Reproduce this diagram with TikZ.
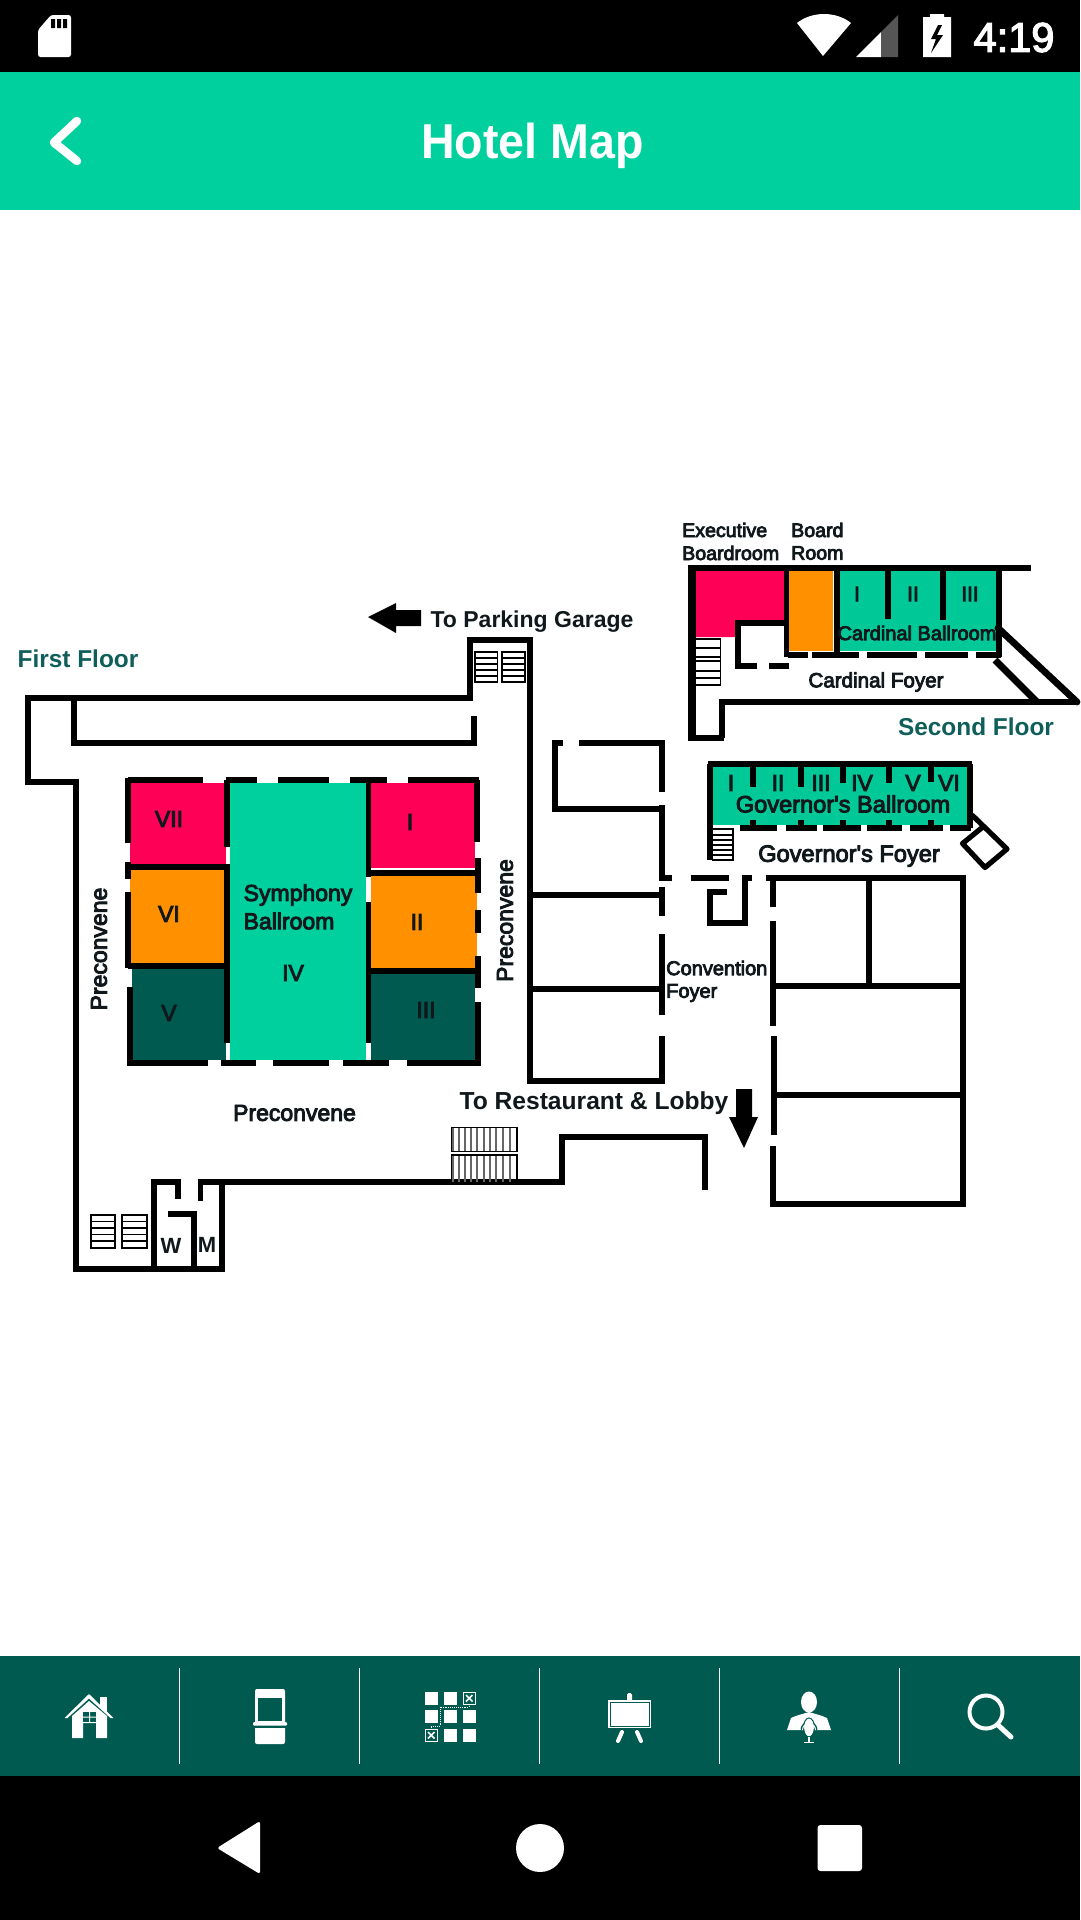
\documentclass[tikz,border=0pt]{standalone}
\usepackage{fontspec}
\setmainfont{Liberation Sans}
\newfontfamily\mapfont[FakeBold=4]{Liberation Sans}
\newfontfamily\clockfont[FakeBold=3]{Liberation Sans}
\newfontfamily\boldfont{Liberation Sans Bold}
\definecolor{appgreen}{HTML}{00CF9E}
\definecolor{hallgreen}{HTML}{00C896}
\definecolor{barteal}{HTML}{005A50}
\definecolor{roompink}{HTML}{FF0057}
\definecolor{roomorange}{HTML}{FF9100}
\definecolor{floorteal}{HTML}{0F5E5A}
\definecolor{inkdark}{HTML}{10181C}
\definecolor{sigdark}{HTML}{555555}
\tikzset{
  wall/.style={draw=black,line width=5.2pt},
  heavywall/.style={draw=black,line width=6.8pt},
  rung/.style={draw=black,line width=1.8pt},
  lab/.style={inner sep=0pt,text=inkdark,font=\mapfont\fontsize{23}{23}\selectfont},
  smalllab/.style={inner sep=0pt,text=inkdark,font=\mapfont\fontsize{20}{20}\selectfont},
  boldlab/.style={inner sep=0pt,text=inkdark,font=\boldfont\fontsize{23}{23}\selectfont},
  floorlab/.style={inner sep=0pt,text=floorteal,font=\boldfont\fontsize{24.4}{24.4}\selectfont},
}
\begin{document}
\begin{tikzpicture}[x=1pt,y=-1pt]
\useasboundingbox (0,0) rectangle (1080,1920);
\fill[white] (0,0) rectangle (1080,1920);
% ---- system and app bars
\fill[black] (0,0) rectangle (1080,72);
\fill[appgreen] (0,72) rectangle (1080,210);
\fill[barteal] (0,1656) rectangle (1080,1776);
\fill[black] (0,1776) rectangle (1080,1920);
% sd card
\fill[white,rounded corners=2.5pt] (38,30) -- (51,15) -- (71,15) -- (71,57) -- (38,57) -- cycle;
\fill[black] (51,19) rectangle (55,28) (57,19) rectangle (61,28) (63,19) rectangle (67,28);
% wifi
\fill[white] (823,56) -- (797,23) .. controls (812,11) and (836,11) .. (851,23) -- cycle;
% signal
\fill[white] (856,57) -- (881,32) -- (881,57) -- cycle;
\fill[sigdark] (881,32) -- (898,15) -- (898,57) -- (881,57) -- cycle;
% battery
\fill[white] (923,17) -- (930,17) -- (930,14) -- (944,14) -- (944,17) -- (951,17) -- (951,57) -- (923,57) -- cycle;
\fill[black] (938,25) -- (931,39) -- (936,39) -- (931,53) -- (943,35) -- (937,35) -- (942,25) -- cycle;
\node[inner sep=0pt,text=white,font=\clockfont\fontsize{41.5}{41.5}\selectfont] (clock) at (1014,37.5) {4:19};
% app bar
\draw[white,line width=8.5pt,line cap=round,line join=round] (77,121) -- (54,142.5) -- (77,161);
\node[inner sep=0pt,text=white,font=\boldfont\fontsize{49}{49}\selectfont,xscale=0.95] (title) at (532.5,146) {Hotel Map};
% ---- first floor: room fills
\fill[roompink] (130,783) rectangle (225.5,865);
\fill[roomorange] (130,870) rectangle (225.5,964);
\fill[barteal] (132,964) rectangle (225.5,1060);
\fill[appgreen] (230,783) rectangle (366,1060);
\fill[roompink] (371,783) rectangle (475,868);
\fill[roomorange] (371,876) rectangle (477,968);
\fill[barteal] (371,974) rectangle (475,1060);
% ballroom walls
\draw[wall] (128,780) -- (203,780);
\draw[heavywall] (225.5,780) -- (257,780) (277.5,780) -- (329,780) (349.5,780) -- (387,780) (408,780) -- (479,780);
\draw[heavywall] (127,1063) -- (208,1063) (221,1063) -- (256,1063) (273,1063) -- (329,1063) (343,1063) -- (389,1063) (407,1063) -- (481,1063);
\draw[wall] (128,778) -- (128,843) (128,862) -- (128,879) (128,892) -- (128,968);
\draw[wall] (130,987) -- (130,1063);
\draw[wall] (477,780) -- (477,842) (478,858) -- (478,893) (478,910) -- (478,933) (478,956) -- (478,988) (478,1002) -- (478,1063);
\draw[wall] (227,780) -- (227,847) (227,864) -- (227,1043);
\draw[wall] (368.5,780) -- (368.5,877) (368.5,902) -- (368.5,1043);
\draw[heavywall] (128,867) -- (227,867);
\draw[wall] (128,966) -- (227,966);
\draw[heavywall] (369,873) -- (478,873);
\draw[heavywall] (369,971) -- (478,971);
% outer walls first floor
\draw[wall,line join=miter] (470,698) -- (470,640) -- (530,640) -- (530,1081) -- (662,1081) -- (662,1036);
\draw[wall] (472.5,698) -- (28,698) -- (28,782) -- (76,782) -- (76,1269) -- (222,1269) -- (222,1182) -- (200.5,1182) -- (200.5,1201);
\draw[wall] (74,698) -- (74,743) -- (474,743) -- (474,716);
\draw[wall] (222,1182) -- (562,1182) -- (562,1137) -- (705,1137) -- (705,1190);
\draw[wall] (154,1269) -- (154,1182) -- (178,1182) -- (178,1199);
\draw[wall] (168,1214) -- (194,1214) -- (194,1269);
% right-hand rooms
\draw[wall] (563,743) -- (555,743) -- (555,809) -- (662,809);
\draw[wall] (579,743) -- (662,743) -- (662,792);
\draw[wall] (662,805) -- (662,878) -- (672,878);
\draw[wall] (691,878) -- (729,878);
\draw[wall] (662,887) -- (662,916) (662,934) -- (662,1015);
\draw[wall] (530,895) -- (662,895) (530,989) -- (662,989);
\draw[wall] (752,878) -- (745,878) -- (745,923) -- (710,923) -- (710,892) -- (727,892);
\draw[wall] (773,907) -- (773,878) -- (963,878) -- (963,1204) -- (773,1204) -- (773,1146);
\draw[wall] (766,878) -- (773,878);
\draw[wall] (773,921) -- (773,1026) (774,1036) -- (774,1135);
\draw[wall] (869,878) -- (869,986) (773,986) -- (963,986) (774,1095) -- (963,1095);
% arrows
\fill[black] (368,617) -- (396,603) -- (396,610) -- (421,610) -- (421,626) -- (396,626) -- (396,633) -- cycle;
\fill[black] (744,1148) -- (729,1117) -- (736,1117) -- (736,1089) -- (752,1089) -- (752,1117) -- (758,1117) -- cycle;
% stairs first floor
\foreach \xa/\xb in {475/497.5,502/525}{
  \draw[rung] (\xa,652) rectangle (\xb,682);
  \foreach \yy in {658,664,670,676}{\draw[rung] (\xa,\yy) -- (\xb,\yy);}
}
\foreach \xa/\xb in {91/115,122/147}{
  \draw[rung] (\xa,1215) rectangle (\xb,1248);
  \foreach \yy in {1221.5,1228,1234.5,1241}{\draw[rung] (\xa,\yy) -- (\xb,\yy);}
}
\foreach \xx in {453,459,465,471,477,484,490,496,503,510}{
  \draw[draw=black!60,line width=2.4pt] (\xx,1128) -- (\xx,1182);
}
\draw[draw=black,line width=1.3pt] (451.5,1182) -- (451.5,1127.5) -- (517,1127.5) -- (517,1182);
\fill[white] (451,1152) rectangle (518,1155);
\draw[draw=black,line width=1.2pt] (451,1151.5) -- (518,1151.5) (451,1155) -- (518,1155);
% labels first floor
\node[floorlab] (firstfloor) at (78,659) {First Floor};
\node[boldlab] (parking) at (532,622) {To Parking Garage};
\node[boldlab,font=\boldfont\fontsize{24.6}{24.6}\selectfont] (restaurant) at (594,1103.5) {To Restaurant \& Lobby};
\node[lab,rotate=90] (precleft) at (99,949) {Preconvene};
\node[lab,rotate=90] (precright) at (505,920.5) {Preconvene};
\node[lab] (precbottom) at (294.5,1113) {Preconvene};
\node[lab] (r7) at (169,819) {VII};
\node[lab] (r6) at (169,914) {VI};
\node[lab] (r5) at (169,1013) {V};
\node[lab] (r1) at (410,822) {I};
\node[lab] (r2) at (417,922) {II};
\node[lab] (r3) at (426,1010) {III};
\node[lab] (r4) at (293,973) {IV};
\node[lab] (symphony) at (298,895) {Symphony};
\node[lab] (symballroom) at (289,921) {Ballroom};
\node[lab,font=\boldfont\fontsize{22}{22}\selectfont] (wlab) at (171,1246) {W};
\node[lab,font=\boldfont\fontsize{22}{22}\selectfont] (mlab) at (207,1245) {M};
\node[smalllab,anchor=west] (conv) at (666,968) {Convention};
\node[smalllab,anchor=west] (convf) at (666,993) {Foyer};
% ---- governor's
\fill[hallgreen] (712,767) rectangle (968,825);
\draw[wall] (708,764) -- (972,764);
\draw[wall] (710,764) -- (710,860);
\draw[wall] (970,764) -- (970,828);
\draw[wall] (740,828) -- (777,828) (786,828) -- (817,828) (823,828) -- (861,828) (867,828) -- (902,828) (910,828) -- (943,828) (950,828) -- (971,828);
\draw[wall] (753,764) -- (753,787) (801,764) -- (801,787) (843,764) -- (843,783) (889,764) -- (889,783) (931,764) -- (931,782);
\draw[wall] (753,820) -- (753,828) (801,820) -- (801,828) (843,820) -- (843,828) (889,820) -- (889,828) (931,820) -- (931,828);
\draw[rung] (712,829) -- (733,829) -- (733,860) -- (712,860);
\foreach \yy in {835,840,845,850,855}{\draw[rung] (712,\yy) -- (733,\yy);}
\draw[wall,line join=round] (972,815) -- (1007,849) -- (985,867.5) -- (962.5,843.5) -- (984,826);
\node[lab] (g1) at (731,783) {I};
\node[lab] (g2) at (778,783) {II};
\node[lab] (g3) at (821,783) {III};
\node[lab] (g4) at (862,783) {IV};
\node[lab] (g5) at (913,783) {V};
\node[lab] (g6) at (949,783) {VI};
\node[lab,font=\mapfont\fontsize{23.6}{23.6}\selectfont] (govball) at (843,804) {Governor's Ballroom};
\node[lab,font=\mapfont\fontsize{23.6}{23.6}\selectfont] (govfoy) at (849,856) {Governor's Foyer};
% ---- cardinal
\fill[roompink] (695,571) -- (784,571) -- (784,620) -- (736,620) -- (736,637) -- (695,637) -- cycle;
\fill[roomorange] (788,571) rectangle (833,651);
\fill[hallgreen] (840,571) rectangle (998,651);
\draw[heavywall] (688,568) -- (1031,568);
\draw[draw=black,line width=7.5pt] (692,565) -- (692,741);
\draw[wall] (690,738) -- (724,738);
\draw[heavywall] (722,738) -- (722,702) -- (1077,702);
\draw[heavywall,line cap=round] (998,628) -- (1077,702);
\draw[heavywall] (995,660) -- (1037,702);
\draw[wall] (786.5,568) -- (786.5,657);
\draw[heavywall] (837,568) -- (837,657);
\draw[wall] (999,568) -- (999,657);
\draw[wall] (888,568) -- (888,619) (943,568) -- (943,620);
\draw[heavywall] (788,655) -- (808,655) (812,655) -- (859,655) (867,655) -- (917,655) (925,655) -- (968,655) (976,655) -- (1001,655);
\draw[wall] (787,623) -- (738,623) -- (738,666) -- (757,666);
\draw[wall] (769,666) -- (789,666);
\draw[rung] (695,639) -- (720.5,639) -- (720.5,685) -- (695,685);
\foreach \yy in {648,657,661,671,678}{\draw[rung] (695,\yy) -- (720.5,\yy);}
\node[smalllab,anchor=west,font=\mapfont\fontsize{19.6}{19.6}\selectfont] (execa) at (682,530) {Executive};
\node[smalllab,anchor=west,font=\mapfont\fontsize{19.6}{19.6}\selectfont] (execb) at (682,553) {Boardroom};
\node[smalllab,anchor=west,font=\mapfont\fontsize{19.6}{19.6}\selectfont] (bra) at (791,530) {Board};
\node[smalllab,anchor=west,font=\mapfont\fontsize{19.6}{19.6}\selectfont] (brb) at (791,553) {Room};
\node[smalllab,font=\mapfont\fontsize{21}{21}\selectfont] (c1) at (857,594) {I};
\node[smalllab,font=\mapfont\fontsize{21}{21}\selectfont] (c2) at (913,594) {II};
\node[smalllab,font=\mapfont\fontsize{21}{21}\selectfont] (c3) at (970,594) {III};
\node[smalllab] (cardball) at (917,633) {Cardinal Ballroom};
\node[smalllab,font=\mapfont\fontsize{20.6}{20.6}\selectfont] (cardfoy) at (876,682) {Cardinal Foyer};
\node[floorlab] (secondfloor) at (976,727) {Second Floor};
% ---- bottom bar
\foreach \xx in {179.5,359.5,539.5,719.5,899.5}{\draw[white,line width=1pt] (\xx,1668) -- (\xx,1764);}
% home
\fill[white] (100,1697) rectangle (107,1714);
\fill[barteal] (89,1697) -- (117,1721) -- (100,1721) -- (100,1708) -- cycle;
\fill[white] (100,1697) rectangle (107,1708);
\fill[white] (89,1694) -- (113.5,1718) -- (110.5,1718) -- (89,1698.5) -- (67.5,1718) -- (64.5,1718) -- cycle;
\fill[white] (89,1701) -- (107,1716) -- (107,1738) -- (96,1738) -- (96,1723) -- (83,1723) -- (83,1738) -- (72,1738) -- (72,1716) -- cycle;
\fill[barteal] (83,1712) rectangle (96,1722);
\fill[white] (89,1712) rectangle (90,1722) (83,1716.5) rectangle (96,1717.5);
% kiosk
\fill[white,rounded corners=2pt] (255,1689) rectangle (285,1744);
\fill[barteal] (258,1698) rectangle (282,1721);
\fill[barteal] (250,1725) rectangle (290,1727.5);
\fill[white,rounded corners=1pt] (253,1722) rectangle (287,1725.5);
% grid
\foreach \xx in {425,444,463}{\foreach \yy in {1692,1710,1729}{\fill[white] (\xx,\yy) rectangle ++(12.5,12.5);}}
\foreach \xx/\yy in {463/1692,425/1729}{
  \fill[barteal] (\xx+1,\yy+1) rectangle ++(10.5,10.5);
  \draw[white,line width=1.5pt] (\xx+3,\yy+3) -- (\xx+9.5,\yy+9.5) (\xx+9.5,\yy+3) -- (\xx+3,\yy+9.5);
}
\draw[white,line width=0.9pt,densely dotted] (469,1704) -- (469,1707) -- (440,1707) -- (440,1726) -- (431,1726) -- (431,1729);
% easel
\fill[white,rounded corners=1.5pt] (627,1693) rectangle (632,1701);
\fill[white] (608,1700) rectangle (651,1728);
\draw[barteal,line width=0.8pt] (610,1702) rectangle (649,1726);
\draw[white,line width=4pt,line cap=round] (622,1732) -- (618,1741) (637,1732) -- (641,1741);
% person
\fill[white] (809,1702) ellipse (8 and 10.5);
\fill[white] (787,1730) -- (791,1718) .. controls (797,1715) and (803,1714) .. (809,1712) .. controls (815,1714) and (821,1715) .. (827,1718) -- (831,1730) -- cycle;
\draw[barteal,line width=4pt] (802.5,1730) arc (180:360:6.5) ;
\draw[white,fill=white,line width=0.8pt] (809,1727.5) ellipse (4.5 and 8.5);
\draw[barteal,line width=1pt] (809,1727.5) ellipse (5.5 and 9.5);
\draw[white,line width=1pt] (802.5,1730) arc (180:360:6.5);
\draw[white,line width=1.5pt] (809,1737) -- (809,1742.5) (804,1742.5) -- (814,1742.5);
% search
\draw[white,line width=4pt] (986,1712) circle (16.5);
\draw[white,line width=5pt,line cap=round] (998,1725) -- (1011,1737);
% ---- nav bar
\fill[white,rounded corners=2.5pt] (217,1848) -- (260,1821) -- (260,1874) -- cycle;
\fill[white] (540,1848) circle (24);
\fill[white,rounded corners=3pt] (817.5,1825) rectangle (862,1871);
\end{tikzpicture}
\end{document}
